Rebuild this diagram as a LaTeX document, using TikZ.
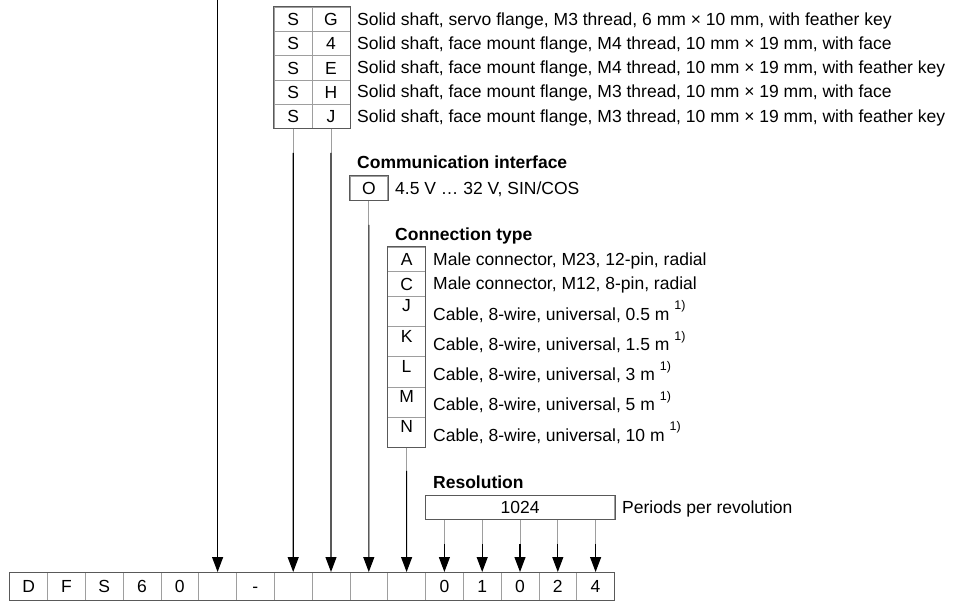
\documentclass[tikz,border=0pt]{standalone}
\usepackage{fontspec}
\setmainfont{Liberation Sans}
\usetikzlibrary{arrows.meta}
\definecolor{outerc}{gray}{0.35}
\definecolor{innerc}{gray}{0.62}
\tikzset{
  txt/.style={font=\fontsize{17.5}{20}\selectfont, inner sep=0pt},
  ttl/.style={font=\bfseries\fontsize{17.5}{20}\selectfont, inner sep=0pt, anchor=base west},
  desc/.style={txt, anchor=base west},
  cellbox/.style={draw=innerc, line width=0.8pt, inner sep=0pt, anchor=north west,
                  minimum width=37.8pt, txt, text height=12.6pt, text depth=0pt},
  arr/.style={line width=1.1pt, -{Triangle[length=15pt,width=11pt]}},
  stub/.style={line width=0.8pt, draw=innerc},
  frame/.style={draw=outerc, line width=1pt},
}
\newcommand{\supone}{\ \raisebox{10.5pt}{\fontsize{12.5}{12.5}\selectfont 1)}}
\begin{document}
\begin{tikzpicture}[x=1pt,y=-1pt]
\fill[white] (0,0) rectangle (965,601);
\useasboundingbox (0,0) rectangle (965,601);

% ---------- bottom type code row ----------
\foreach \i/\t in {0/D,1/F,2/S,3/6,4/0,5/{},6/-,7/{},8/{},9/{},10/{},11/0,12/1,13/0,14/2,15/4}{
  \node[cellbox, minimum height=28pt] (c\i) at ({9.3+37.8*\i},572) {\t};
}
\draw[frame] (c0.north west) rectangle (c15.south east);

% ---------- shaft / flange table ----------
\foreach \r/\b in {0/G,1/4,2/E,3/H,4/J}{
  \node[cellbox, minimum height=24.2pt] (sa\r) at (273.9,{7+24.2*\r}) {S};
  \node[cellbox, minimum height=24.2pt] (sb\r) at (311.7,{7+24.2*\r}) {\b};
}
\draw[frame] (sa0.north west) rectangle (sb4.south east);
\node[desc] (d0) at (357,25.4) {Solid shaft, servo flange, M3 thread, 6 mm × 10 mm, with feather key};
\node[desc] (d1) at (357,49.6) {Solid shaft, face mount flange, M4 thread, 10 mm × 19 mm, with face};
\node[desc] (d2) at (357,73.8) {Solid shaft, face mount flange, M4 thread, 10 mm × 19 mm, with feather key};
\node[desc] (d3) at (357,98.0) {Solid shaft, face mount flange, M3 thread, 10 mm × 19 mm, with face};
\node[desc] (d4) at (357,122.2) {Solid shaft, face mount flange, M3 thread, 10 mm × 19 mm, with feather key};

% ---------- communication interface ----------
\node[ttl] (tcom) at (357,168.3) {Communication interface};
\node[cellbox, minimum height=24pt] (o) at (349.5,176) {O};
\draw[frame] (o.north west) rectangle (o.south east);
\node[desc] (dO) at (395,194.3) {4.5 V … 32 V, SIN/COS};

% ---------- connection type ----------
\node[ttl] (tcon) at (395,240.3) {Connection type};
\node[cellbox, minimum height=24.5pt] (kA) at (387.3,247) {A};
\node[cellbox, minimum height=24.5pt] (kC) at (387.3,271.5) {C};
\foreach \l/\T in {J/296,K/326.2,L/356.4,M/386.6,N/416.8}{
  \node[cellbox, minimum height=30.2pt] (k\l) at (387.3,\T) {};
  \node[txt] (l\l) at ([yshift=-10pt]k\l.north) {\l};
}
\draw[frame] (kA.north west) rectangle (kN.south east);
\node[desc] (dA) at (433,265.5) {Male connector, M23, 12-pin, radial};
\node[desc] (dC) at (433,290) {Male connector, M12, 8-pin, radial};
\node[desc] (dJ) at (433,320.3) {Cable, 8-wire, universal, 0.5 m\supone};
\node[desc] (dK) at (433,350.5) {Cable, 8-wire, universal, 1.5 m\supone};
\node[desc] (dL) at (433,380.7) {Cable, 8-wire, universal, 3 m\supone};
\node[desc] (dM) at (433,410.9) {Cable, 8-wire, universal, 5 m\supone};
\node[desc] (dN) at (433,441.1) {Cable, 8-wire, universal, 10 m\supone};

% ---------- resolution ----------
\node[ttl] (tres) at (433,488.3) {Resolution};
\node[cellbox, minimum width=189.2pt, minimum height=24pt] (res) at (425.1,495) {1024};
\draw[frame] (res.north west) rectangle (res.south east);
\node[desc] (dres) at (622,513.3) {Periods per revolution};

% ---------- connectors ----------
\coordinate (top5) at (c5.north |- 0,0);
\draw[arr] (top5) -- (c5.north);

\draw[stub] (sa4.south) -- ++(0,24) coordinate (ka);
\draw[arr] (ka) -- (c7.north);
\draw[stub] (sb4.south) -- ++(0,24) coordinate (kb);
\draw[arr] (kb) -- (c8.north);

\draw[stub] (o.south) -- ++(0,24) coordinate (ko);
\draw[arr] (ko) -- (c9.north);

\draw[stub] (kN.south) -- ++(0,23) coordinate (kn);
\draw[arr] (kn) -- (c10.north);

\foreach \i in {11,...,15}{
  \coordinate (r\i) at (c\i.north |- res.south);
  \draw[stub] (r\i) -- ++(0,24) coordinate (rr\i);
  \draw[arr] (rr\i) -- (c\i.north);
}
\end{tikzpicture}
\end{document}
